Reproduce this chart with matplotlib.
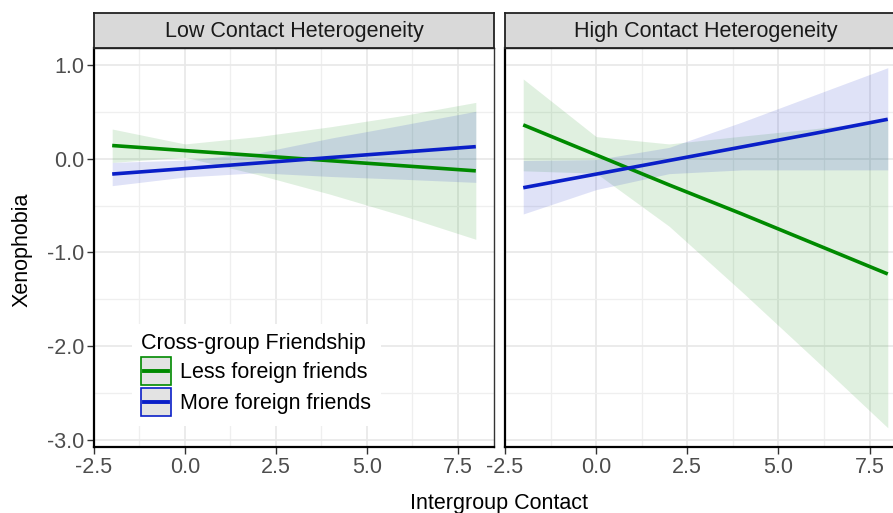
import matplotlib
matplotlib.use("Agg")
import matplotlib.pyplot as plt
from matplotlib.patches import Rectangle
from matplotlib.lines import Line2D
from matplotlib.ticker import MultipleLocator

plt.rcParams["font.family"] = ["Liberation Sans", "DejaVu Sans"]

# values (predicted xenophobia with 95% CI)
contact = [-2, 0, 2, 4, 6, 8]
panels = ["Low Contact Heterogeneity", "High Contact Heterogeneity"]
groups = ["Less foreign friends", "More foreign friends"]

low_less_fit = [0.14, 0.086, 0.032, -0.022, -0.076, -0.13]
low_less_lo = [-0.04, 0.015, -0.17, -0.38, -0.61, -0.86]
low_less_hi = [0.316, 0.157, 0.235, 0.34, 0.46, 0.60]
low_more_fit = [-0.164, -0.106, -0.047, 0.012, 0.07, 0.128]
low_more_lo = [-0.288, -0.196, -0.15, -0.19, -0.22, -0.253]
low_more_hi = [-0.04, -0.016, 0.06, 0.218, 0.36, 0.505]

high_less_fit = [0.36, 0.04, -0.28, -0.59, -0.91, -1.23]
high_less_lo = [-0.13, -0.155, -0.72, -1.42, -2.14, -2.87]
high_less_hi = [0.85, 0.235, 0.157, 0.24, 0.32, 0.41]
high_more_fit = [-0.31, -0.165, -0.02, 0.125, 0.27, 0.42]
high_more_lo = [-0.59, -0.33, -0.16, -0.12, -0.12, -0.12]
high_more_hi = [-0.02, -0.01, 0.12, 0.39, 0.68, 0.97]

GREEN = "#008a00"
BLUE = "#0a1fc8"
FS = 15.5

data = [
    [(low_less_fit, low_less_lo, low_less_hi), (low_more_fit, low_more_lo, low_more_hi)],
    [(high_less_fit, high_less_lo, high_less_hi), (high_more_fit, high_more_lo, high_more_hi)],
]


class KeyHandler:
    # grey key box with coloured outline and a centred line, like ggplot
    def legend_artist(self, legend, orig_handle, fontsize, handlebox):
        x0, y0 = -handlebox.xdescent, -handlebox.ydescent
        w, h = handlebox.width, handlebox.height
        c = orig_handle.get_color()
        box = Rectangle((x0, y0), w, h, facecolor="#e3e3e3", edgecolor=c,
                        lw=1.2, transform=handlebox.get_transform())
        ln = Line2D([x0 + 0.08 * w, x0 + 0.92 * w], [y0 + h / 2] * 2, color=c,
                    lw=2.8, transform=handlebox.get_transform())
        handlebox.add_artist(box)
        handlebox.add_artist(ln)
        return box


W, H = 893, 513
fig = plt.figure(figsize=(W / 100, H / 100), dpi=100)


def px_box(x0, y0, x1, y1):
    return [x0 / W, 1 - y1 / H, (x1 - x0) / W, (y1 - y0) / H]


panel_px = [(94, 494), (505, 906)]
axes = []
for i, (x0, x1) in enumerate(panel_px):
    ax = fig.add_axes(px_box(x0, 48, x1, 447))
    axes.append(ax)
    ax.set_xlim(-2.5, 8.5)
    ax.set_ylim(-3.075, 1.18)
    ax.xaxis.set_major_locator(MultipleLocator(2.5))
    ax.xaxis.set_minor_locator(MultipleLocator(1.25))
    ax.yaxis.set_major_locator(MultipleLocator(1.0))
    ax.yaxis.set_minor_locator(MultipleLocator(0.5))
    ax.grid(which="major", color="#e8e8e8", lw=1.2)
    ax.grid(which="minor", color="#efefef", lw=0.9)
    ax.set_axisbelow(True)
    ax.tick_params(which="minor", length=0)
    ax.tick_params(which="major", length=5, width=1, color="#333333",
                   labelsize=FS, labelcolor="#4d4d4d", pad=2)
    ax.xaxis.set_major_formatter(lambda v, p: f"{v:.1f}")
    ax.yaxis.set_major_formatter(lambda v, p: f"{v:.1f}")
    for s in ax.spines.values():
        s.set_color("#333333")
        s.set_linewidth(1.0)
    ax.spines["bottom"].set_color("black")
    ax.spines["bottom"].set_linewidth(1.6)
    ax.spines["left"].set_color("black")
    ax.spines["left"].set_linewidth(1.6)

    (lf, llo, lhi), (mf, mlo, mhi) = data[i]
    ax.fill_between(contact, llo, lhi, color=GREEN, alpha=0.12, lw=0)
    ax.fill_between(contact, mlo, mhi, color=BLUE, alpha=0.13, lw=0)
    ax.plot(contact, lf, color=GREEN, lw=2.6, solid_capstyle="butt")
    ax.plot(contact, mf, color=BLUE, lw=2.6, solid_capstyle="butt")

    strip = fig.add_axes(px_box(x0, 13, x1, 48))
    strip.set_facecolor("#d9d9d9")
    strip.set_xticks([])
    strip.set_yticks([])
    for s in strip.spines.values():
        s.set_color("#222222")
        s.set_linewidth(1.3)
    strip.text(0.5, 0.47, panels[i], ha="center", va="center",
               fontsize=FS, color="#1a1a1a", transform=strip.transAxes)

axes[1].tick_params(axis="y", length=0, labelleft=False)

handles = [Line2D([], [], color=GREEN), Line2D([], [], color=BLUE)]
leg = axes[0].legend(handles, groups, title="Cross-group Friendship",
                     loc="upper left", bbox_to_anchor=(121 / W, 1 - 313 / H),
                     bbox_transform=fig.transFigure, fontsize=FS,
                     title_fontsize=FS, alignment="left", frameon=True,
                     facecolor="white", edgecolor="none", framealpha=1,
                     fancybox=False, handlelength=1.35, handleheight=1.68,
                     handletextpad=0.45, labelspacing=0.1, borderpad=0.45,
                     handler_map={Line2D: KeyHandler()})
leg.get_frame().set_linewidth(0)

fig.text(22 / W, 1 - 250 / H, "Xenophobia", rotation=90, ha="center",
         va="center", fontsize=FS, color="black")
fig.text(499 / W, 1 - 503 / H, "Intergroup Contact", ha="center",
         va="center", fontsize=FS, color="black")

fig.savefig("out.png", dpi=100)
